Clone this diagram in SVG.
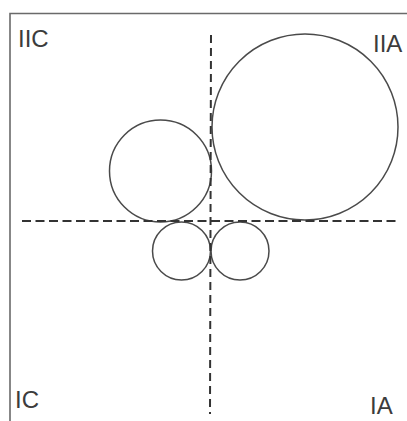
<svg xmlns="http://www.w3.org/2000/svg" width="407" height="421" viewBox="0 0 407 421">
<style>
.frame{fill:none;stroke:#6a6a6a;stroke-width:1.6}
.circ{fill:none;stroke:#4a4a4a;stroke-width:1.5}
.dash{fill:none;stroke:#333;stroke-width:2;stroke-dasharray:9 4.5}
.lbl{font-family:"Liberation Sans",Arial,sans-serif;font-size:24px;fill:#3c3c3c}
</style>
<rect width="407" height="421" fill="#fff"/>
<g id="frame">
<path class="frame" d="M10,421 V13.5 H407"/>
</g>
<g id="labels">
<text class="lbl" x="18" y="47">IIC</text>
<text class="lbl" x="373" y="52">IIA</text>
<text class="lbl" x="15" y="408">IC</text>
<text class="lbl" x="370" y="414">IA</text>
</g>
<g id="circle-large"><circle class="circ" cx="305" cy="127" r="93"/></g>
<g id="circle-medium"><circle class="circ" cx="160.5" cy="171" r="51"/></g>
<g id="circle-small-left"><circle class="circ" cx="181.5" cy="251" r="29"/></g>
<g id="circle-small-right"><circle class="circ" cx="240" cy="251" r="29"/></g>
<g id="connectors">
<line class="dash" x1="22" y1="221" x2="396" y2="221"/>
<line class="dash" x1="211" y1="35" x2="210" y2="414" style="stroke-dasharray:8 5"/>
</g>
</svg>
